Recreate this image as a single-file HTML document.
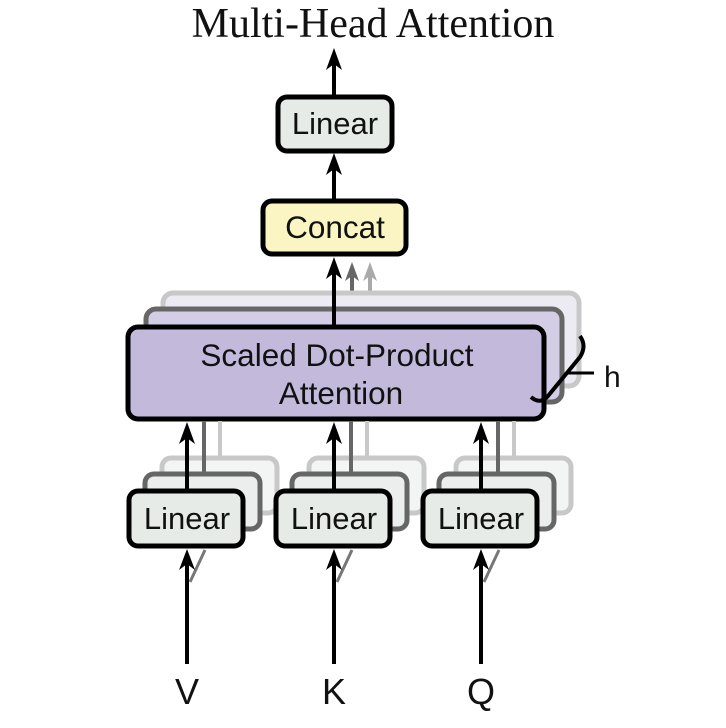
<!DOCTYPE html>
<html><head><style>body{margin:0;background:#fff}svg{display:block}</style></head>
<body>
<svg width="726" height="728" viewBox="0 0 726 728" xmlns="http://www.w3.org/2000/svg">
<g font-family="Liberation Sans, sans-serif" fill="#111">
<text x="373" y="37" font-family="Liberation Serif, serif" font-size="42" text-anchor="middle">Multi-Head Attention</text>

<line x1="334" y1="96" x2="334" y2="60" stroke="#000" stroke-width="4"/>
<path d="M334,48 L342,70 L334,64 L326,70Z" fill="#000"/>
<rect x="278" y="97" width="114" height="54" rx="9" fill="#e6ebe8" stroke="#000" stroke-width="5"/>
<text x="335" y="134" font-size="31" text-anchor="middle">Linear</text>

<line x1="334" y1="200" x2="334" y2="165" stroke="#000" stroke-width="4"/>
<path d="M334,153 L342,175 L334,169 L326,175Z" fill="#000"/>
<rect x="263" y="201" width="143" height="53" rx="9" fill="#faf5c2" stroke="#000" stroke-width="5"/>
<text x="335" y="238" font-size="31.5" text-anchor="middle">Concat</text>

<line x1="352" y1="310" x2="352" y2="272" stroke="#666" stroke-width="4"/>
<path d="M352,262 L359,281 L352,276 L345,281Z" fill="#666"/>
<line x1="370" y1="293" x2="370" y2="272" stroke="#aaa" stroke-width="4"/>
<path d="M370,262 L377,281 L370,276 L363,281Z" fill="#aaa"/>

<rect x="163" y="293" width="416" height="93" rx="10" fill="#ecebf4" stroke="#c8c8c8" stroke-width="5"/>
<rect x="146" y="309" width="416" height="93" rx="10" fill="#d3cde6" stroke="#666" stroke-width="5"/>
<line x1="334" y1="327" x2="334" y2="272" stroke="#000" stroke-width="4"/>
<path d="M334,257 L342,279 L334,273 L326,279Z" fill="#000"/>
<rect x="128" y="327" width="416" height="92" rx="10" fill="#c3badb" stroke="#000" stroke-width="5"/>
<text x="337" y="366" font-size="31.5" text-anchor="middle">Scaled Dot-Product</text>
<text x="341" y="404" font-size="31.5" text-anchor="middle">Attention</text>
<path d="M531,397 Q540,405 548,396 L580,357 Q587,346 580,336" fill="none" stroke="#000" stroke-width="4"/>
<line x1="567" y1="373" x2="594" y2="373" stroke="#000" stroke-width="3"/>
<text x="604" y="387" font-size="30">h</text>

<g>
<rect x="162" y="458" width="115" height="55" rx="9" fill="#f3f5f4" stroke="#c8c8c8" stroke-width="5"/>
<rect x="145" y="474" width="115" height="55" rx="9" fill="#eceeed" stroke="#666" stroke-width="5"/>
<rect x="309" y="458" width="115" height="55" rx="9" fill="#f3f5f4" stroke="#c8c8c8" stroke-width="5"/>
<rect x="292" y="474" width="115" height="55" rx="9" fill="#eceeed" stroke="#666" stroke-width="5"/>
<rect x="456" y="458" width="115" height="55" rx="9" fill="#f3f5f4" stroke="#c8c8c8" stroke-width="5"/>
<rect x="439" y="474" width="115" height="55" rx="9" fill="#eceeed" stroke="#666" stroke-width="5"/>
</g>
<g stroke-width="4">
<line x1="220" y1="460" x2="220" y2="421" stroke="#c8c8c8"/><line x1="204" y1="476" x2="204" y2="421" stroke="#666"/>
<line x1="367" y1="460" x2="367" y2="421" stroke="#c8c8c8"/><line x1="351" y1="476" x2="351" y2="421" stroke="#666"/>
<line x1="514" y1="460" x2="514" y2="421" stroke="#c8c8c8"/><line x1="498" y1="476" x2="498" y2="421" stroke="#666"/>
</g>
<g stroke="#000" stroke-width="4">
<line x1="187" y1="490" x2="187" y2="436"/><line x1="334" y1="490" x2="334" y2="436"/><line x1="481" y1="490" x2="481" y2="436"/>
</g>
<path d="M187,422 L195,444 L187,438 L179,444Z M334,422 L342,444 L334,438 L326,444Z M481,422 L489,444 L481,438 L473,444Z" fill="#000"/>
<rect x="129" y="491" width="114" height="55" rx="9" fill="#e6ebe8" stroke="#000" stroke-width="5"/>
<rect x="276" y="491" width="114" height="55" rx="9" fill="#e6ebe8" stroke="#000" stroke-width="5"/>
<rect x="423" y="491" width="114" height="55" rx="9" fill="#e6ebe8" stroke="#000" stroke-width="5"/>
<text x="187" y="529" font-size="31" text-anchor="middle">Linear</text>
<text x="334" y="529" font-size="31" text-anchor="middle">Linear</text>
<text x="481" y="529" font-size="31" text-anchor="middle">Linear</text>

<g stroke="#777" stroke-width="3"><line x1="190" y1="582" x2="205" y2="550"/><line x1="337" y1="582" x2="352" y2="550"/><line x1="484" y1="582" x2="499" y2="550"/></g>
<g stroke="#000" stroke-width="4">
<line x1="187" y1="664" x2="187" y2="562"/><line x1="334" y1="664" x2="334" y2="562"/><line x1="481" y1="664" x2="481" y2="562"/>
</g>
<path d="M187,549 L195,570 L187,564 L179,570Z M334,549 L342,570 L334,564 L326,570Z M481,549 L489,570 L481,564 L473,570Z" fill="#000"/>
<text x="187" y="704" font-size="36" text-anchor="middle">V</text>
<text x="334" y="704" font-size="36" text-anchor="middle">K</text>
<text x="481" y="704" font-size="36" text-anchor="middle">Q</text>
</g>
</svg>
</body></html>
